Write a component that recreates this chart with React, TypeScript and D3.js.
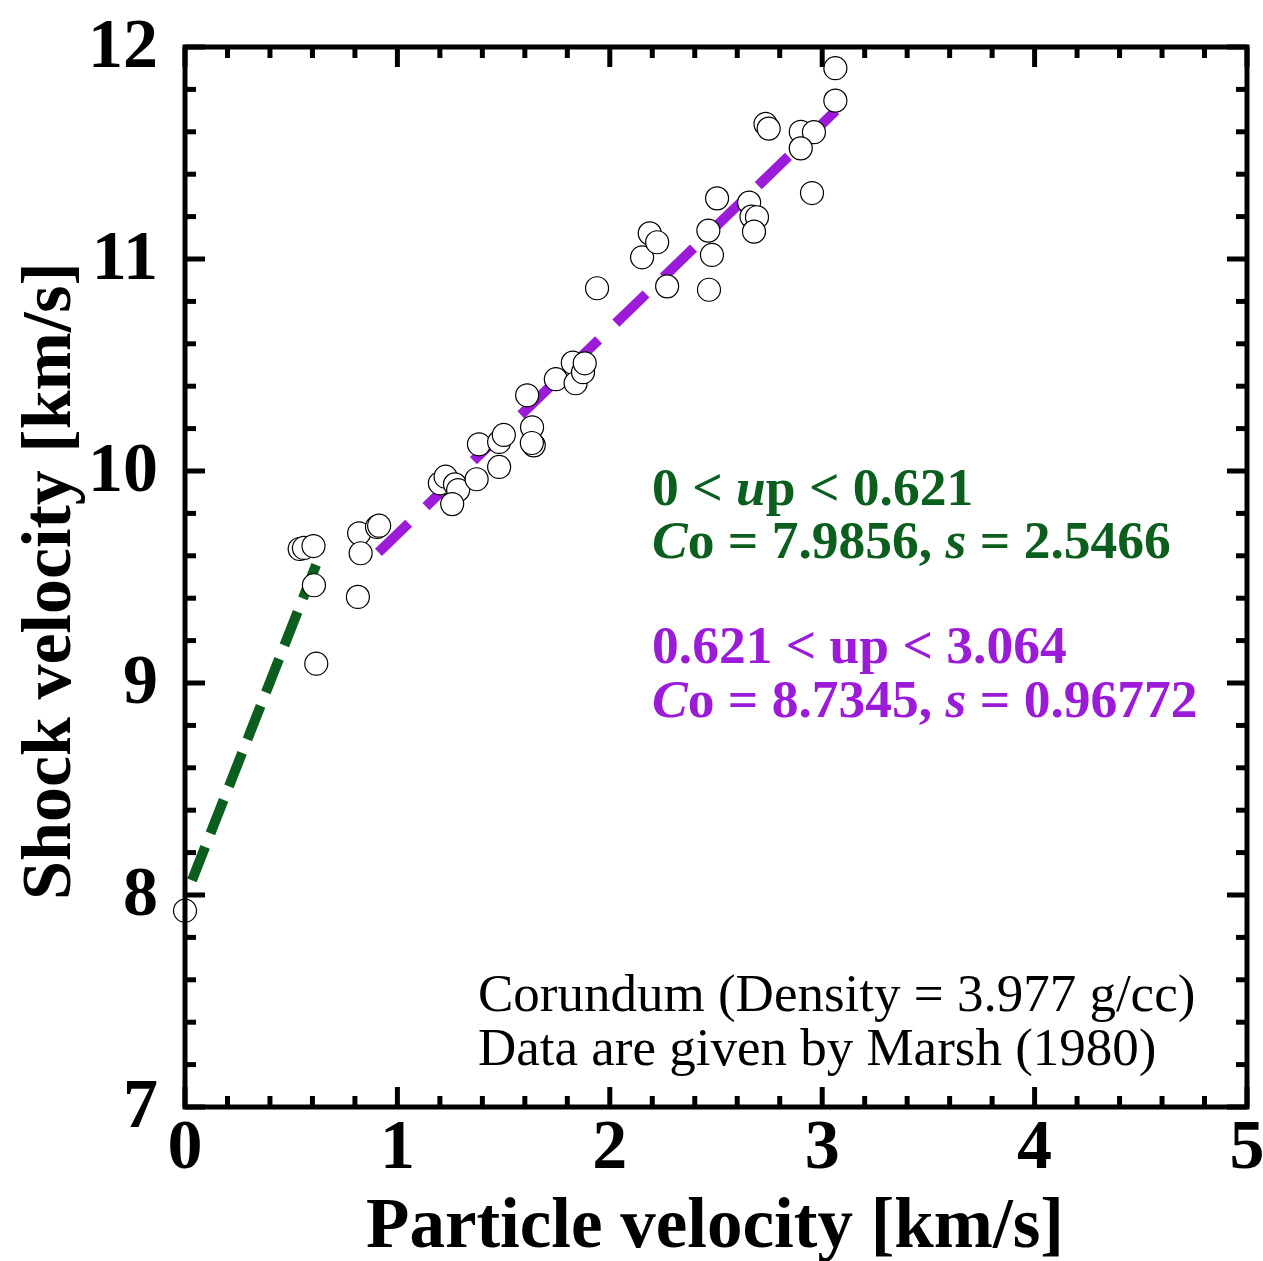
import React from "react";
import * as d3 from "d3";

// Particle velocity (km/s) and shock velocity (km/s), Marsh (1980) corundum
const upData = [
  0.0, 0.54, 0.56, 0.605, 0.607, 0.618, 0.82, 0.904, 0.914, 0.827, 0.814,
  1.2, 1.227, 1.271, 1.286, 1.258, 1.373, 1.479, 1.384, 1.479, 1.501,
  1.611, 1.634, 1.642, 1.633, 1.746, 1.826, 1.839, 1.874, 1.882, 1.94,
  2.152, 2.188, 2.223, 2.27, 2.464, 2.481, 2.467, 2.505, 2.656, 2.667,
  2.693, 2.679, 2.733, 2.748, 2.899, 2.961, 2.899, 2.952, 3.062, 3.062,
];
const usData = [
  7.926, 9.632, 9.637, 9.646, 9.461, 9.091, 9.706, 9.736, 9.742, 9.612, 9.406,
  9.942, 9.973, 9.937, 9.91, 9.844, 9.961, 10.019, 10.126, 10.137, 10.17,
  10.357, 10.206, 10.121, 10.132, 10.433, 10.511, 10.414, 10.466, 10.508, 10.862,
  11.008, 11.121, 11.079, 10.871, 11.134, 11.019, 10.855, 11.286, 11.266, 11.2,
  11.197, 11.129, 11.637, 11.615, 11.6, 11.598, 11.522, 11.311, 11.9, 11.747,
];

// Linear fits Us = Co + s * up
const fitLow = [0, 0.621];
const fitHigh = [0.621, 3.064];
const fitCo = [7.9856, 8.7345];
const fitS = [2.5466, 0.96772];

const xMajorTicks = [0, 1, 2, 3, 4, 5];
const yMajorTicks = [7, 8, 9, 10, 11, 12];

const W = 1263;
const H = 1261;
const L = 185, R = 1247, T = 47, B = 1107;
const FONT = "'Liberation Serif', 'Times New Roman', Times, serif";
const GREEN = "#0b5e1d";
const PURPLE = "#9b1bd8";

function dashes(len: number, lead: number, dash: number, gap: number) {
  const arr: number[] = [0, lead];
  let pos = lead;
  while (pos < len) {
    arr.push(dash, gap);
    pos += dash + gap;
  }
  return arr.join(" ");
}

export default function App() {
  const x = d3.scaleLinear().domain([0, 5]).range([L, R]);
  const y = d3.scaleLinear().domain([7, 12]).range([B, T]);
  const line = d3
    .line<[number, number]>()
    .x((d) => x(d[0]))
    .y((d) => y(d[1]));

  const fits = [
    { range: fitLow, co: fitCo[0], s: fitS[0], color: GREEN, lead: 19, dash: 36, gap: 14.5 },
    { range: fitHigh, co: fitCo[1], s: fitS[1], color: PURPLE, lead: 85.6, dash: 42, gap: 24 },
  ];

  const xMinor = x.ticks(25).filter((t) => !xMajorTicks.includes(+t.toFixed(3)));
  const yMinor = y.ticks(25).filter((t) => !yMajorTicks.includes(+t.toFixed(3)));
  const tickW = 5;

  return (
    <svg
      width={W}
      height={H}
      style={{ position: "absolute", left: 0, top: 0, background: "#fff" }}
      fontFamily={FONT}
    >
      <rect x={0} y={0} width={W} height={H} fill="#fff" />
      {/* fit lines */}
      {fits.map((f, i) => {
        const pts: [number, number][] = f.range.map((u) => [u, f.co + f.s * u]);
        const len = Math.hypot(
          x(pts[1][0]) - x(pts[0][0]),
          y(pts[1][1]) - y(pts[0][1])
        );
        return (
          <path
            key={i}
            d={line(pts) || ""}
            fill="none"
            stroke={f.color}
            strokeWidth={10}
            strokeLinecap="butt"
            strokeDasharray={dashes(len, f.lead, f.dash, f.gap)}
          />
        );
      })}
      {/* data points */}
      {upData.map((u, i) => (
        <circle
          key={i}
          cx={x(u)}
          cy={y(usData[i])}
          r={11.5}
          fill="#fff"
          stroke="#000"
          strokeWidth={1.2}
        />
      ))}
      {/* frame */}
      <rect x={L} y={T} width={R - L} height={B - T} fill="none" stroke="#000" strokeWidth={5} />
      {/* x ticks */}
      {xMajorTicks.map((t) => (
        <g key={"xm" + t}>
          <line x1={x(t)} x2={x(t)} y1={B} y2={B - 20} stroke="#000" strokeWidth={tickW} />
          <line x1={x(t)} x2={x(t)} y1={T} y2={T + 20} stroke="#000" strokeWidth={tickW} />
          <text x={x(t)} y={1168} textAnchor="middle" fontSize={70} fontWeight="bold">
            {t}
          </text>
        </g>
      ))}
      {xMinor.map((t) => (
        <g key={"xn" + t}>
          <line x1={x(t)} x2={x(t)} y1={B} y2={B - 11} stroke="#000" strokeWidth={tickW} />
          <line x1={x(t)} x2={x(t)} y1={T} y2={T + 11} stroke="#000" strokeWidth={tickW} />
        </g>
      ))}
      {/* y ticks */}
      {yMajorTicks.map((t) => (
        <g key={"ym" + t}>
          <line x1={L} x2={L + 20} y1={y(t)} y2={y(t)} stroke="#000" strokeWidth={tickW} />
          <line x1={R} x2={R - 20} y1={y(t)} y2={y(t)} stroke="#000" strokeWidth={tickW} />
          <text x={158} y={y(t) + 20} textAnchor="end" fontSize={70} fontWeight="bold">
            {t}
          </text>
        </g>
      ))}
      {yMinor.map((t) => (
        <g key={"yn" + t}>
          <line x1={L} x2={L + 11} y1={y(t)} y2={y(t)} stroke="#000" strokeWidth={tickW} />
          <line x1={R} x2={R - 11} y1={y(t)} y2={y(t)} stroke="#000" strokeWidth={tickW} />
        </g>
      ))}
      {/* axis titles */}
      <text x={(L + R) / 2 - 1} y={1247} textAnchor="middle" fontSize={71} fontWeight="bold">
        Particle velocity [km/s]
      </text>
      <text
        transform={`translate(70, ${(T + B) / 2 + 4}) rotate(-90)`}
        textAnchor="middle"
        fontSize={70}
        fontWeight="bold"
      >
        Shock velocity [km/s]
      </text>
      {/* annotations */}
      <g fontWeight="bold" fontSize={53.5}>
        <text x={652} y={505} fill={GREEN}>
          0 &lt; <tspan fontStyle="italic">u</tspan>p &lt; 0.621
        </text>
        <text x={652} y={558} fill={GREEN}>
          <tspan fontStyle="italic">C</tspan>o = 7.9856, <tspan fontStyle="italic">s</tspan> = 2.5466
        </text>
        <text x={652} y={663} fill={PURPLE}>
          0.621 &lt; up &lt; 3.064
        </text>
        <text x={652} y={717} fill={PURPLE}>
          <tspan fontStyle="italic">C</tspan>o = 8.7345, <tspan fontStyle="italic">s</tspan> = 0.96772
        </text>
      </g>
      <g fontSize={53}>
        <text x={478} y={1011}>Corundum (Density = 3.977 g/cc)</text>
        <text x={478} y={1065}>Data are given by Marsh (1980)</text>
      </g>
    </svg>
  );
}
